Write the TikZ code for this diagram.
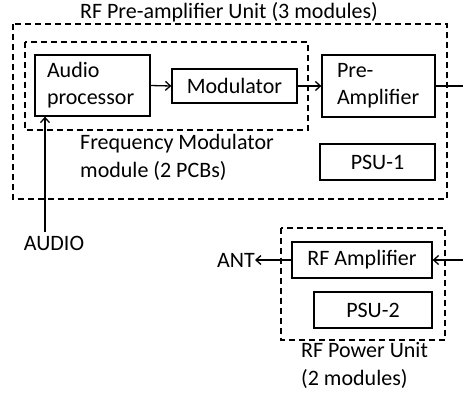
\documentclass[tikz,border=0pt]{standalone}
\usepackage{fontspec}
\setmainfont{Carlito}
\usetikzlibrary{arrows.meta}
\begin{document}
\begin{tikzpicture}[x=1pt,y=-1pt,
  txt/.style={font=\fontsize{22}{28}\selectfont, inner sep=0pt},
  blk/.style={draw, line width=1.3pt, font=\fontsize{22}{27}\selectfont, inner sep=0pt},
  grp/.style={draw, line width=1.3pt, dash pattern=on 6pt off 4pt},
  arr/.style={line width=1.3pt, -{Straight Barb[length=5pt,width=9pt]}},
  ln/.style={line width=1.3pt}]
\useasboundingbox (0,0) rectangle (463,392);
% groups
\draw[grp] (13,24) rectangle (447,199);
\draw[grp] (25,42) rectangle (308,130);
\draw[grp] (281,228) rectangle (445,340);
% blocks
\node[blk, minimum width=115, minimum height=61, text width=91, align=left] (ap) at (92.5,85.5) {Audio\\processor};
\node[blk, minimum width=125, minimum height=34] (mod) at (234.5,86) {Modulator};
\node[blk, minimum width=113, minimum height=62, text width=83, align=left] (pre) at (378.5,86) {Pre-\\Amplifier};
\node[blk, minimum width=115, minimum height=36] (psu1) at (377.5,162) {PSU-1};
\node[blk, minimum width=140, minimum height=36] (rfa) at (362,260) {RF Amplifier};
\node[blk, minimum width=118, minimum height=36] (psu2) at (373,310) {PSU-2};
% labels
\node[txt] (title) at (229,12) {RF Pre-amplifier Unit (3 modules)};
\node[txt, anchor=west, align=left] (fm) at (80,157) {Frequency Modulator\\module (2 PCBs)};
\node[txt] (audio) at (54,243) {AUDIO};
\node[txt] (ant) at (236,260) {ANT};
\node[txt, anchor=west, align=left] (rfpu) at (301,365) {RF Power Unit\\(2 modules)};
\coordinate (aud) at (45,232);
\coordinate (preout) at (463,86);
\coordinate (rfin) at (463,260);
% connectors
\draw[arr] (ap.east) -- (mod.west);
\draw[arr] (mod.east) -- (pre.west);
\draw[arr] (aud) -- (aud |- ap.south);
\draw[ln] (pre.east) -- (preout);
\draw[arr] (rfin) -- (rfa.east);
\draw[arr] (rfa.west) -- (ant.east);
\end{tikzpicture}
\end{document}
